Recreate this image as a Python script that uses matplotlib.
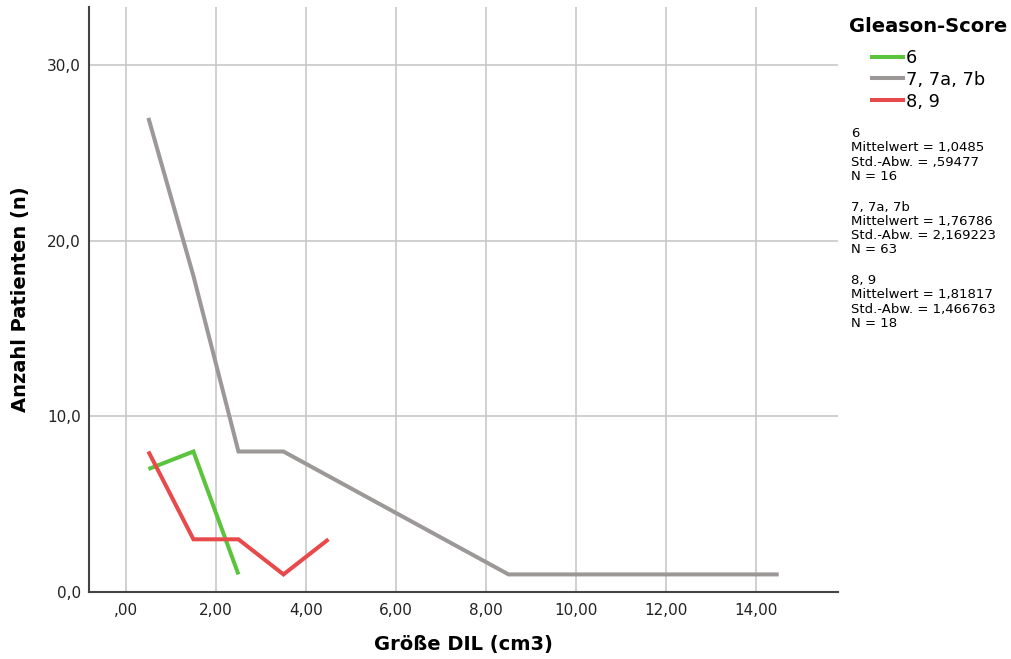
import matplotlib.pyplot as plt
from matplotlib.lines import Line2D

plt.rcParams['font.family'] = ['DejaVu Sans']

# Frequency polygon per Gleason group (class midpoints of DIL size)
x_g6 = [0.5, 1.5, 2.5]
n_g6 = [7, 8, 1]
x_g7 = [0.5, 1.5, 2.5, 3.5, 8.5, 14.5]
n_g7 = [27, 18, 8, 8, 1, 1]
x_g89 = [0.5, 1.5, 2.5, 3.5, 4.5]
n_g89 = [8, 3, 3, 1, 3]

groups = ['6', '7, 7a, 7b', '8, 9']
colors = ['#5bc43d', '#9c9898', '#e8494b']
stats = [
    ('6', '1,0485', ',59477', 16),
    ('7, 7a, 7b', '1,76786', '2,169223', 63),
    ('8, 9', '1,81817', '1,466763', 18),
]

xticks = [0, 2, 4, 6, 8, 10, 12, 14]
xlabels = [',00', '2,00', '4,00', '6,00', '8,00', '10,00', '12,00', '14,00']
yticks = [0, 10, 20, 30]
ylabels = ['0,0', '10,0', '20,0', '30,0']

fig = plt.figure(figsize=(10.11, 6.59), dpi=100)
ax = fig.add_axes([0.088, 0.1017, 0.741, 0.8873])

for xs, ys, c in zip([x_g6, x_g7, x_g89], [n_g6, n_g7, n_g89], colors):
    ax.plot(xs, ys, color=c, lw=2.9, solid_capstyle='butt', solid_joinstyle='miter', zorder=3)

ax.set_xlim(-0.82, 15.82)
ax.set_ylim(0, 33.3)
ax.set_xticks(xticks)
ax.set_xticklabels(xlabels)
ax.set_yticks(yticks)
ax.set_yticklabels(ylabels)
ax.tick_params(length=0, labelsize=11, colors='#222222')
ax.tick_params(axis='x', pad=8)
ax.tick_params(axis='y', pad=6)
ax.grid(True, color='#c8c8c8', lw=1.2)
ax.set_axisbelow(True)
for s in ['top', 'right']:
    ax.spines[s].set_visible(False)
for s in ['left', 'bottom']:
    ax.spines[s].set_color('#444444')
    ax.spines[s].set_linewidth(1.5)

ax.set_xlabel('Größe DIL (cm3)', fontsize=14, fontweight='bold', labelpad=12)
ax.set_ylabel('Anzahl Patienten (n)', fontsize=14, fontweight='bold', labelpad=12)

# Legend with group statistics on the right
handles = [Line2D([0], [0], color=c, lw=2.9) for c in colors]
leg = fig.legend(handles, groups, loc='upper left', bbox_to_anchor=(0.8625, 0.926),
                 frameon=False, fontsize=12.8, handlelength=1.75, handletextpad=0.15,
                 labelspacing=0.22, borderaxespad=0, borderpad=0)
fig.text(0.84, 0.945, 'Gleason-Score', fontsize=14, fontweight='bold', ha='left', va='bottom')

y0 = 0.807
for name, mean, sd, n in stats:
    txt = f'{name}\nMittelwert = {mean}\nStd.-Abw. = {sd}\nN = {n}'
    fig.text(0.842, y0, txt, fontsize=9.5, ha='left', va='top', linespacing=1.12)
    y0 -= 0.1115

fig.savefig('out.png', dpi=100)
